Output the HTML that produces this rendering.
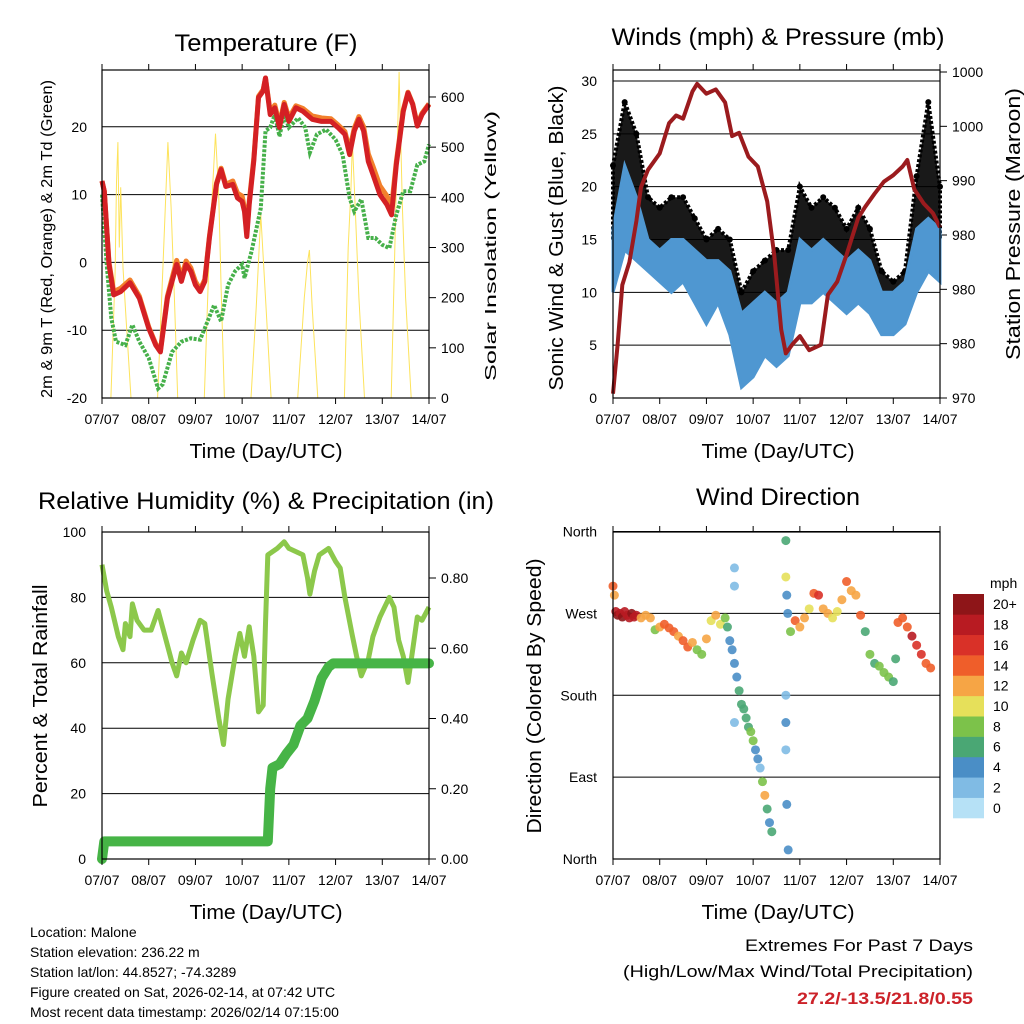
<!DOCTYPE html>
<html><head><meta charset="utf-8"><style>
html,body{margin:0;padding:0;background:#fff;}
svg{display:block;font-family:"Liberation Sans",sans-serif;}
</style></head><body>
<svg id="chart" width="1024" height="1024" viewBox="0 0 1024 1024" xmlns="http://www.w3.org/2000/svg"></svg>
<script>
// ---------- DATA ----------
const dayLabels = ['07/07','08/07','09/07','10/07','11/07','12/07','13/07','14/07'];

const tempTime = [0,0.05,0.15,0.25,0.4,0.6,0.8,1.0,1.15,1.25,1.4,1.6,1.7,1.8,1.9,2.0,2.1,2.2,2.3,2.45,2.55,2.65,2.8,2.9,3.0,3.05,3.1,3.15,3.25,3.35,3.45,3.5,3.6,3.7,3.8,3.9,4.0,4.15,4.3,4.5,4.7,4.9,5.05,5.2,5.3,5.4,5.5,5.6,5.7,5.8,5.95,6.1,6.2,6.3,6.45,6.55,6.65,6.75,6.85,7.0];
const tempRed = [12,10.5,-0.3,-4.8,-4.3,-3,-5.3,-9.7,-12.2,-13.2,-5.3,-0.3,-2.8,-0.3,-1.3,-3.3,-4.3,-2.8,3.6,11.5,13.7,11.2,11.5,9.5,9,7.5,3.8,8.5,15,24.3,25.3,27.2,21.8,22.8,19.9,23.3,20.8,22.8,22.3,21.1,20.8,20.8,19.9,18.9,15.9,19.4,21.1,19.4,14.9,13,10,8.5,7,14.4,22.3,25,23.3,20.1,21.8,23.3];
const tempOrange = [12,10.5,0,-4.3,-3.8,-2.6,-5,-9.5,-12,-13,-5,0.3,-2.2,0.2,-0.8,-2.8,-4,-2.5,3.8,11.7,13.9,11.5,12,10.2,9.8,8,4.3,9,15.3,24.5,25.5,27.2,22.2,23.2,20.4,23.6,21.3,23.1,22.7,21.6,21.3,21.2,20.3,19.3,16.6,19.8,21.5,20,16,14.2,11.3,9.8,8.2,14.8,22.5,25.1,23.4,20.3,22,23.4];
const dewTime = [0,0.1,0.2,0.3,0.5,0.65,0.8,1.0,1.2,1.3,1.5,1.7,1.9,2.1,2.2,2.4,2.55,2.7,2.85,3.0,3.05,3.2,3.4,3.5,3.6,3.7,3.8,3.9,4.0,4.2,4.35,4.45,4.6,4.8,5.0,5.15,5.3,5.4,5.55,5.7,5.85,6.0,6.15,6.3,6.45,6.6,6.75,6.9,7.0];
const dewVals = [10,-0.3,-8.2,-11.7,-12.2,-9.2,-11.7,-14.1,-18.6,-18,-13.2,-11.7,-11.2,-11.4,-9.7,-6.3,-8.7,-3.3,-1.3,-0.3,-2.3,1.6,8,19.4,19.9,21.8,18.6,21.8,19.9,21.3,19.9,16.2,18.9,19.6,18.1,15.9,9.5,7.5,9.3,3.6,3.6,2.6,2.1,7,10.5,10.5,14.4,14.9,17.4];
const solarTime = [0,0.19,0.28,0.31,0.34,0.37,0.40,0.45,0.52,0.62,1.19,1.30,1.41,1.48,1.55,1.62,2.19,2.30,2.43,2.50,2.55,2.62,3.19,3.30,3.40,3.50,3.62,4.19,4.33,4.40,4.44,4.50,4.62,5.19,5.27,5.33,5.36,5.42,5.50,5.62,6.19,6.30,6.36,6.43,6.50,6.62,7.0];
const solarVals = [0,0,250,430,510,300,420,260,150,0,0,250,510,380,200,0,0,300,527,400,220,0,0,180,365,200,0,0,200,270,295,180,0,0,300,420,510,380,200,0,0,420,650,380,200,0,0];

const windTime = [0,0.25,0.5,0.75,1,1.25,1.5,1.75,2,2.25,2.5,2.75,3,3.25,3.5,3.75,4,4.25,4.5,4.75,5,5.25,5.5,5.75,6,6.25,6.5,6.75,7];
const sustLo = [10,14,13,12,11,10,11,9,7,9,6,1,2,4,3,4,9,9,10,9,8,9,8,6,6,7,10,12,11];
const sustHi = [16,22,19,15,14,15,15,14,13,13,12,8,9,10,9,10,15,14,15,14,13,14,13,10,10,11,16,17,16];
const gustLo = [15,19,16,13,12,13,13,12,9,11,9,4,5,7,5,7,13,13,12,11,10,11,11,8,8,9,14,16,15];
const gustHi = [22,28,25,19,18,19,19,17,15,16,15,10,12,13,14,14,20,18,19,18,16,18,16,12,11,12,21,28,20];
const presTime = [0,0.1,0.2,0.35,0.5,0.6,0.75,1.0,1.2,1.35,1.5,1.7,1.8,2.0,2.2,2.4,2.55,2.7,2.9,3.1,3.3,3.45,3.6,3.7,3.85,4.0,4.2,4.45,4.6,4.8,5.0,5.25,5.4,5.6,5.8,6.0,6.2,6.3,6.45,6.65,6.85,7.0];
const presVals = [970.4,975,980.4,982.5,986.3,989.4,991,992.5,995.3,996,995.7,998.2,998.9,998,998.4,997.2,994.1,994.4,992.2,991.3,988.1,983.2,976.3,974.1,975,975.7,974.4,974.9,979.5,980.7,983.2,986.6,987.6,988.8,989.9,990.5,991.3,991.9,989.2,987.9,987,985.7];
const presTickVals = [970,975,980,985,990,995,1000];
const presTickLabels = ['970','980','980','980','990','1000','1000'];

const rhTime = [0,0.1,0.2,0.35,0.45,0.5,0.6,0.65,0.75,0.9,1.05,1.2,1.35,1.5,1.6,1.7,1.8,1.95,2.1,2.2,2.35,2.5,2.6,2.7,2.85,2.95,3.05,3.15,3.25,3.35,3.45,3.5,3.55,3.75,3.9,4.0,4.3,4.4,4.45,4.55,4.65,4.85,5.0,5.1,5.2,5.35,5.45,5.55,5.7,5.8,5.95,6.05,6.15,6.25,6.35,6.45,6.55,6.65,6.75,6.85,7.0];
const rhVals = [90,82,77,68,64,72,68,78,73,70,70,76,68,60,56,63,60,67,73,72,57,43,35,49,62,69,62,71,62,45,47,72,93,95,97,95,93,86,81,88,93,95,91,89,80,69,62,56,61,68,74,77,80,77,67,62,54,64,74,73,77];
const precTime = [0,0.05,3.55,3.6,3.65,3.8,3.95,4.1,4.25,4.4,4.55,4.7,4.85,4.95,7.0];
const precVals = [0,0.05,0.05,0.20,0.26,0.27,0.30,0.325,0.38,0.40,0.45,0.515,0.547,0.557,0.557];

const dirTime = [0,0.03,0.06,0.1,0.15,0.2,0.25,0.3,0.35,0.4,0.45,0.5,0.6,0.7,0.8,0.9,1.0,1.1,1.2,1.3,1.4,1.5,1.6,1.7,1.8,1.9,2.0,2.1,2.2,2.3,2.4,2.45,2.5,2.55,2.6,2.65,2.7,2.75,2.8,2.85,2.9,2.95,3.0,3.05,3.1,3.15,3.2,3.25,3.3,3.35,3.4,2.6,2.6,2.6,3.7,3.7,3.72,3.74,3.7,3.7,3.7,3.72,3.75,3.8,3.9,4.0,4.1,4.2,4.3,4.4,4.5,4.6,4.7,4.8,4.9,5.0,5.1,5.2,5.3,5.4,5.5,5.6,5.7,5.8,5.9,6.0,6.05,6.1,6.2,6.3,6.4,6.5,6.6,6.7,6.8];
const dirVals = [300,290,272,268,270,266,272,268,265,270,266,268,265,268,265,252,255,258,254,250,245,240,233,238,230,225,242,262,268,258,265,255,240,230,215,200,185,170,165,155,145,140,130,120,110,100,85,70,55,40,30,300,320,150,350,310,290,270,180,150,120,60,10,250,262,255,265,275,292,290,275,270,265,272,285,305,295,290,268,250,225,215,212,205,200,195,220,260,265,255,245,235,225,215,210];
const dirSpeed = [14,13,18,20,19,20,18,19,18,20,18,18,12,12,12,9,12,14,14,15,13,14,14,12,9,9,12,11,12,10,8,6,5,4,4,5,6,6,6,7,7,8,8,4,5,3,8,12,6,4,6,2,2,2,6,10,4,5,2,4,3,4,4,8,14,13,12,10,14,16,12,13,10,11,13,14,12,13,14,6,8,7,8,8,8,7,6,15,14,14,18,16,16,14,14];
const cbLabels = ['0','2','4','6','8','10','12','14','16','18','20+'];
const cbColors = ['#b6e1f6','#80bbe4','#4a8ec6','#4aa774','#7cc24a','#e6e05a','#f6a545','#ef5e2a','#d93128','#b81b22','#8e1518'];

// ---------- HELPERS ----------
const NS = 'http://www.w3.org/2000/svg';
const svg = document.getElementById('chart');
function mk(tag, attrs, parent) {
  const e = document.createElementNS(NS, tag);
  for (const k in attrs) e.setAttribute(k, attrs[k]);
  (parent || svg).appendChild(e);
  return e;
}
function txt(s, x, y, size, anchor, extra) {
  const t = mk('text', Object.assign({x: x, y: y, 'font-size': size, 'text-anchor': anchor || 'start', fill: '#000'}, extra || {}));
  t.textContent = s;
  return t;
}
const DAYW = 327 / 7;
function xAt(x0, d) { return x0 + d * DAYW; }
function pathFrom(xs, ys) { return xs.map((x, i) => (i ? 'L' : 'M') + x.toFixed(1) + ' ' + ys[i].toFixed(1)).join(' '); }

function panelFrame(x0, y0, name) {
  const g = mk('g', {});
  
  
  return g;
}
function xAxis(g, x0, yB, yT) {
  dayLabels.forEach((lab, i) => {
    const x = xAt(x0, i);
    mk('line', {x1: x, y1: yB, x2: x, y2: yB + 6, stroke: '#000', 'stroke-width': 1}, g);
    mk('line', {x1: x, y1: yT, x2: x, y2: yT - 6, stroke: '#000', 'stroke-width': 1}, g);
    const t = txt(lab, x, yB + 26, 14, 'middle');
    g.appendChild(t);
    
    
  });
}
function border(g, x0, yT, yB) {
  const r = mk('rect', {x: x0, y: yT, width: 327, height: yB - yT, fill: 'none', stroke: '#000', 'stroke-width': 1.2}, g);
  
  
}
function rotLabel(s, x, y, size, len, name) {
  const t = txt(s, x, y, size, 'middle', {transform: 'rotate(-90 ' + x + ' ' + y + ')', textLength: len, lengthAdjust: 'spacingAndGlyphs'});
  
  
}
function title(s, x, y, len, name) {
  const t = txt(s, x, y, 24, 'middle', {textLength: len, lengthAdjust: 'spacingAndGlyphs'});
  
  
}

// ---------- PANEL 1 : TEMPERATURE ----------
(function () {
  const x0 = 102, yT = 70, yB = 398;
  const yT_ = v => 398 - (v + 20) * 6.78;
  const yS = v => 398 - v * 0.5017;
  const g = panelFrame(x0, yT, 'temperature-panel');
  [-20, -10, 0, 10, 20].forEach(v => {
    const y = yT_(v);
    const l = mk('line', {x1: x0, y1: y, x2: x0 + 327, y2: y, stroke: '#000', 'stroke-width': 1}, g);
    
    
    const t = txt(String(v), 87, y + 5, 14, 'end'); g.appendChild(t);
    
    
  });
  [0, 100, 200, 300, 400, 500, 600].forEach(v => {
    const y = yS(v);
    mk('line', {x1: x0 + 327, y1: y, x2: x0 + 334, y2: y, stroke: '#000'}, g);
    const t = txt(String(v), 441, y + 5, 14, 'start'); g.appendChild(t);
    
    
  });
  const sp = mk('path', {d: pathFrom(solarTime.map(d => xAt(x0, d)), solarVals.map(yS)), fill: 'none', stroke: '#fde35c', 'stroke-width': 1}, g);
  
  
  const dp = mk('path', {d: pathFrom(dewTime.map(d => xAt(x0, d)), dewVals.map(yT_)), fill: 'none', stroke: '#46b04a', 'stroke-width': 4, 'stroke-dasharray': '3 1.5'}, g);
  
  
  const op = mk('path', {d: pathFrom(tempTime.map(d => xAt(x0, d)), tempOrange.map(yT_)), fill: 'none', stroke: '#f2802c', 'stroke-width': 5, 'stroke-linejoin': 'round'}, g);
  
  
  const rp = mk('path', {d: pathFrom(tempTime.map(d => xAt(x0, d)), tempRed.map(yT_)), fill: 'none', stroke: '#d42024', 'stroke-width': 5, 'stroke-linejoin': 'round'}, g);
  
  
  border(g, x0, yT, yB);
  xAxis(g, x0, yB, yT);
  title('Temperature (F)', 266, 51, 183, 'temperature-title');
  const tl = txt('Time (Day/UTC)', 266, 458, 20, 'middle', {textLength: 153, lengthAdjust: 'spacingAndGlyphs'});
  
  
  rotLabel('2m & 9m T (Red, Orange) & 2m Td (Green)', 52, 239, 16, 318, 'temp-y-axis-title');
  rotLabel('Solar Insolation (Yellow)', 496, 246, 16, 270, 'solar-y-axis-title');
})();

// ---------- PANEL 2 : WINDS ----------
(function () {
  const x0 = 613, yT = 70, yB = 398;
  const yW = v => 398 - v * 10.567;
  const yP = v => 398 - (v - 970) * 10.867;
  const g = panelFrame(x0, yT, 'winds-panel');
  [0, 5, 10, 15, 20, 25, 30].forEach(v => {
    const y = yW(v);
    const l = mk('line', {x1: x0, y1: y, x2: x0 + 327, y2: y, stroke: '#000', 'stroke-width': 1}, g);
    
    
    const t = txt(String(v), 597, y + 5, 14, 'end'); g.appendChild(t);
    
    
  });
  presTickVals.forEach((v, i) => {
    const y = yP(v);
    mk('line', {x1: x0 + 327, y1: y, x2: x0 + 334, y2: y, stroke: '#000'}, g);
    const t = txt(presTickLabels[i], 952, y + 5, 14, 'start'); g.appendChild(t);
    
    
  });
  const xs = windTime.map(d => xAt(x0, d));
  const gp = mk('path', {d: pathFrom(xs, gustHi.map(yW)) + ' ' + pathFrom(xs.slice().reverse(), gustLo.map(yW).reverse()).replace('M', 'L') + ' Z', fill: '#000', stroke: '#000', 'stroke-width': 4, 'stroke-dasharray': '3 2', 'fill-opacity': 0.9}, g);
  
  
  windTime.forEach((d, i) => {
    const c = mk('circle', {cx: xAt(x0, d), cy: yW(gustHi[i]), r: 3, fill: '#000'}, g);
    
    
  });
  const bp = mk('path', {d: pathFrom(xs, sustHi.map(yW)) + ' ' + pathFrom(xs.slice().reverse(), sustLo.map(yW).reverse()).replace('M', 'L') + ' Z', fill: '#4f97d1', stroke: '#4f97d1', 'stroke-width': 3}, g);
  
  
  const pp = mk('path', {d: pathFrom(presTime.map(d => xAt(x0, d)), presVals.map(yP)), fill: 'none', stroke: '#9b1b1e', 'stroke-width': 4, 'stroke-linejoin': 'round'}, g);
  
  
  border(g, x0, yT, yB);
  xAxis(g, x0, yB, yT);
  title('Winds (mph) & Pressure (mb)', 778, 45, 333, 'winds-title');
  const tl = txt('Time (Day/UTC)', 778, 458, 20, 'middle', {textLength: 153, lengthAdjust: 'spacingAndGlyphs'});
  
  
  rotLabel('Sonic Wind & Gust (Blue, Black)', 563, 238, 20, 305, 'wind-y-axis-title');
  rotLabel('Station Pressure (Maroon)', 1020, 224, 20, 272, 'pressure-y-axis-title');
})();

// ---------- PANEL 3 : RH & PRECIP ----------
(function () {
  const x0 = 102, yT = 532, yB = 859;
  const yR = v => 859 - v * 3.27;
  const yQ = v => 859 - v * 351.25;
  const g = panelFrame(x0, yT, 'humidity-panel');
  [0, 20, 40, 60, 80, 100].forEach(v => {
    const y = yR(v);
    const l = mk('line', {x1: x0, y1: y, x2: x0 + 327, y2: y, stroke: '#000', 'stroke-width': 1}, g);
    
    
    const t = txt(String(v), 86, y + 5, 14, 'end'); g.appendChild(t);
    
    
  });
  [0, 0.2, 0.4, 0.6, 0.8].forEach(v => {
    const y = yQ(v);
    mk('line', {x1: x0 + 327, y1: y, x2: x0 + 334, y2: y, stroke: '#000'}, g);
    const t = txt(v.toFixed(2), 441, y + 5, 14, 'start'); g.appendChild(t);
    
    
  });
  const rp = mk('path', {d: pathFrom(rhTime.map(d => xAt(x0, d)), rhVals.map(yR)), fill: 'none', stroke: '#8cc84b', 'stroke-width': 5, 'stroke-linejoin': 'round'}, g);
  
  
  const pp = mk('path', {d: pathFrom(precTime.map(d => xAt(x0, d)), precVals.map(yQ)), fill: 'none', stroke: '#46b446', 'stroke-width': 10, 'stroke-linejoin': 'round', 'stroke-linecap': 'round'}, g);
  
  
  border(g, x0, yT, yB);
  xAxis(g, x0, yB, yT);
  title('Relative Humidity (%) & Precipitation (in)', 266, 509, 456, 'humidity-title');
  const tl = txt('Time (Day/UTC)', 266, 919, 20, 'middle', {textLength: 153, lengthAdjust: 'spacingAndGlyphs'});
  
  
  rotLabel('Percent & Total Rainfall', 47, 696, 20, 223, 'humidity-y-axis-title');
})();

// ---------- PANEL 4 : WIND DIRECTION ----------
(function () {
  const x0 = 613, yT = 532, yB = 859;
  const yD = v => 859 - v * 0.9097;
  const g = panelFrame(x0, yT, 'wind-direction-panel');
  const dirTicks = [0, 90, 180, 270, 360];
  const dirNames = ['North', 'East', 'South', 'West', 'North'];
  dirTicks.forEach((v, i) => {
    const y = yD(v);
    const l = mk('line', {x1: x0, y1: y, x2: x0 + 327, y2: y, stroke: '#000', 'stroke-width': 1}, g);
    
    
    const t = txt(dirNames[i], 597, y + 5, 14, 'end'); g.appendChild(t);
    
    
  });
  dirTime.forEach((d, i) => {
    const idx = Math.min(10, Math.floor(dirSpeed[i] / 2));
    const c = mk('circle', {cx: xAt(x0, d), cy: yD(dirVals[i]), r: 4.5, fill: cbColors[idx], 'fill-opacity': 0.9}, g);
    
    
  });
  border(g, x0, yT, yB);
  xAxis(g, x0, yB, yT);
  title('Wind Direction', 778, 505, 164, 'wind-direction-title');
  const tl = txt('Time (Day/UTC)', 778, 919, 20, 'middle', {textLength: 153, lengthAdjust: 'spacingAndGlyphs'});
  
  
  rotLabel('Direction (Colored By Speed)', 541, 696, 20, 275, 'direction-y-axis-title');
  // colorbar
  const cb = mk('g', {});
  
  
  const bh = 224 / 11;
  cbColors.forEach((c, i) => {
    const y = 818 - (i + 1) * bh;
    const r = mk('rect', {x: 953, y: y, width: 31, height: bh + 0.3, fill: c}, cb);
    
    
    const t = txt(cbLabels[i], 993, y + bh / 2 + 5, 14, 'start'); cb.appendChild(t);
    
    
  });
  const u = txt('mph', 990, 588, 14, 'start'); cb.appendChild(u);
  
  
})();

// ---------- FOOTER TEXT ----------
(function () {
  const lines = ['Location: Malone', 'Station elevation: 236.22 m', 'Station lat/lon: 44.8527; -74.3289', 'Figure created on Sat, 2026-02-14, at 07:42 UTC', 'Most recent data timestamp: 2026/02/14 07:15:00'];
  lines.forEach((s, i) => {
    const t = txt(s, 30, 937 + i * 20, 14, 'start');
    
    
  });
  const a = txt('Extremes For Past 7 Days', 973, 951, 17, 'end', {textLength: 228, lengthAdjust: 'spacingAndGlyphs'});
  
  
  const b = txt('(High/Low/Max Wind/Total Precipitation)', 973, 977, 17, 'end', {textLength: 350, lengthAdjust: 'spacingAndGlyphs'});
  
  
  const c = txt('27.2/-13.5/21.8/0.55', 973, 1004, 17, 'end', {fill: '#cc2229', 'font-weight': 'bold', textLength: 176, lengthAdjust: 'spacingAndGlyphs'});
  
  
})();
</script>
</body></html>
